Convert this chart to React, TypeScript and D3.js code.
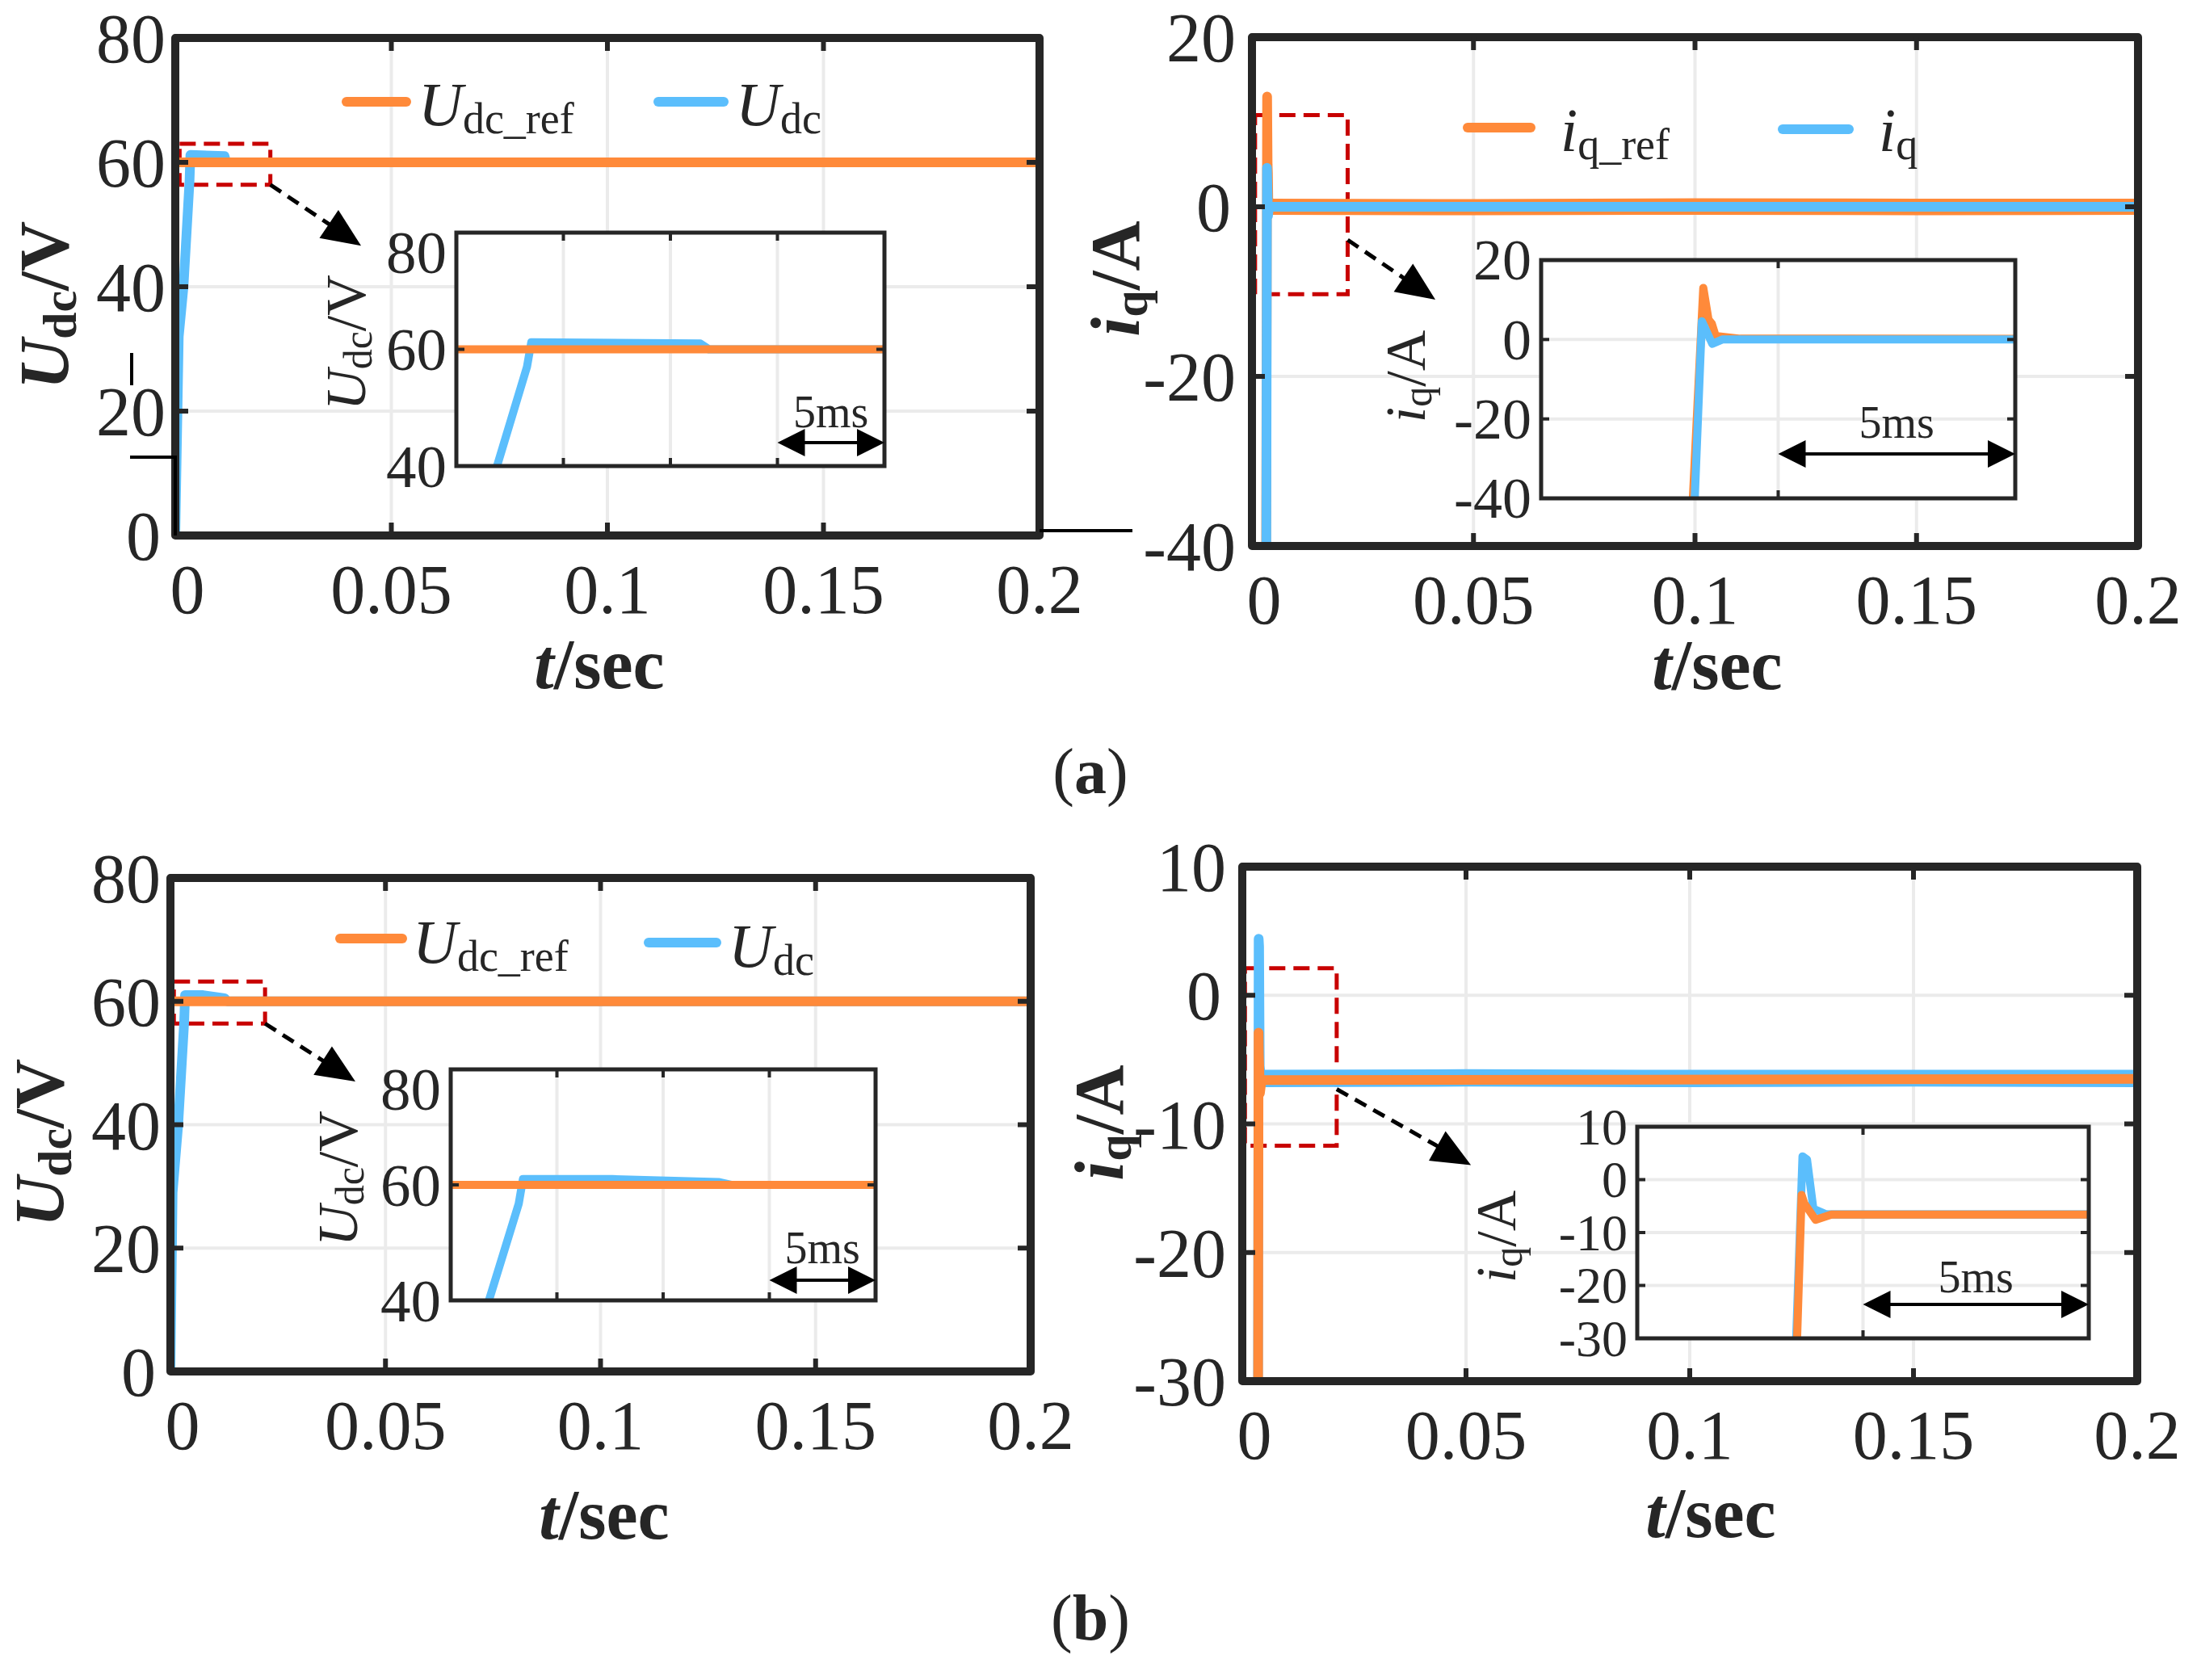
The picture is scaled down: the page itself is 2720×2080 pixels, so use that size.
import React from 'react';
import * as d3 from 'd3';

type Pt = [number, number];
type Band = [number, number, number];

// ---------------- tick values / labels ----------------
const timeTicks = [0, 0.05, 0.1, 0.15, 0.2];
const timeTickLabels = ['0', '0.05', '0.1', '0.15', '0.2'];
const udcTicks = [0, 20, 40, 60, 80];
const udcTickLabels = ['0', '20', '40', '60', '80'];
const udcInsetTicks = [40, 60, 80];
const udcInsetTickLabels = ['40', '60', '80'];
const iqTicksA = [-40, -20, 0, 20];
const iqTickLabelsA = ['-40', '-20', '0', '20'];
const iqTicksB = [-30, -20, -10, 0, 10];
const iqTickLabelsB = ['-30', '-20', '-10', '0', '10'];

const udcInsetWindow: [number, number] = [0, 0.02];
const iqInsetWindow: [number, number] = [0, 0.01];
const udcInsetGrid = [0.005, 0.01, 0.015];
const iqInsetGrid = [0.005];

// ---------------- series (a) ----------------
const udcRefA: Pt[] = [[0, 60], [0.2, 60]];
const udcA: Pt[] = [[0, 0], [0.0008, 32], [0.0019, 40], [0.0033, 57], [0.0035, 61.2], [0.0114, 61.0], [0.0118, 60], [0.2, 60]];
const iqRefA: Pt[] = [[0.0032, -40], [0.00342, 13], [0.00353, 5], [0.0036, 4], [0.00368, 0.9], [0.0042, 0.2], [0.2, 0]];
const iqRefNoiseA: Band[] = [[0.0042, -0.95, 0.95], [0.05, -1.0, 0.9], [0.1, -0.95, 1.0], [0.15, -1.0, 0.95], [0.2, -0.95, 0.95]];
const iqA: Pt[] = [[0.00324, -40], [0.00339, 4.6], [0.00361, -1.1], [0.00382, 0], [0.2, 0]];

// ---------------- series (b) ----------------
const udcRefB: Pt[] = [[0, 60], [0.2, 60]];
const udcB: Pt[] = [[0, 0], [0.0005, 29], [0.0018, 40], [0.0032, 56.7], [0.0034, 61], [0.0076, 61], [0.0126, 60.5], [0.0132, 60], [0.2, 60]];
const iqRefB: Pt[] = [[0.00354, -30], [0.00364, -2.9], [0.0037, -4.5], [0.00395, -7.6], [0.0043, -6.6], [0.2, -6.5]];
const iqB: Pt[] = [[0.00352, -30], [0.00366, 4.4], [0.00376, 3.8], [0.0039, -5.5], [0.0042, -6.6], [0.2, -6.4]];
const iqNoiseB: Band[] = [[0.0042, -7.15, -5.8], [0.05, -7.1, -5.75], [0.1, -7.15, -5.8], [0.15, -7.1, -5.8], [0.2, -7.15, -5.8]];

// ---------------- styles ----------------
const FONT = "'Liberation Serif', 'Times New Roman', Times, serif";
const ORANGE = '#FF8A3A';
const BLUE = '#5BBEFC';
const FRAME = '#262626';
const GRID = '#ebebeb';
const RED = '#C80000';

interface SeriesCfg { data: Pt[]; color: string; }
interface BandCfg { data: Band[]; color: string; }
interface LegendItem { color: string; x0: number; x1: number; y: number; tx: number; ty: number; main: string; sub: string; }
interface InsetCfg {
  box: [number, number, number, number];
  xDomain: [number, number];
  yDomain: [number, number];
  yTicks: number[];
  yTickLabels: string[];
  tickFs: number;
  topShift: number;
  xGrid: number[];
  yGrid: number[];
  label: 'udc' | 'iq';
  labelPos: [number, number];
  span: [number, number];
  spanV: number;
  spanTextV: number;
}
interface PanelCfg {
  id: string;
  frame: [number, number, number, number];
  yDomain: [number, number];
  yTicks: number[];
  yTickLabels: string[];
  yGrid: number[];
  gap: number;
  bands: BandCfg[];
  series: SeriesCfg[];
  zoomBox: [number, number, number, number];
  pointer: [Pt, Pt];
  yLabel: 'udc' | 'iq';
  yLabelPos: [number, number];
  xLabelPos: [number, number];
  legend: LegendItem[];
  inset: InsetCfg;
}

const panels: PanelCfg[] = [
  {
    id: 'aL', frame: [217, 47, 1287, 663], yDomain: [0, 80], yTicks: udcTicks, yTickLabels: udcTickLabels, yGrid: [20, 40, 60], gap: 12,
    bands: [], series: [{ data: udcA, color: BLUE }, { data: udcRefA, color: ORANGE }],
    zoomBox: [0.001, 0.022, 56.4, 63], pointer: [[0.022, 56.4], [0.043, 46.6]],
    yLabel: 'udc', yLabelPos: [84, 378], xLabelPos: [742, 852],
    legend: [
      { color: ORANGE, x0: 423, x1: 509, y: 126, tx: 518, ty: 155, main: 'U', sub: 'dc_ref' },
      { color: BLUE, x0: 809, x1: 902, y: 126, tx: 911, ty: 155, main: 'U', sub: 'dc' },
    ],
    inset: {
      box: [565, 288, 1095, 577], xDomain: udcInsetWindow, yDomain: [40, 80], yTicks: udcInsetTicks, yTickLabels: udcInsetTickLabels, tickFs: 75, topShift: 24,
      xGrid: udcInsetGrid, yGrid: [60], label: 'udc', labelPos: [452, 424], span: [0.015, 0.02], spanV: 44, spanTextV: 46.7,
    },
  },
  {
    id: 'aR', frame: [1550, 46, 2647, 676], yDomain: [-40, 20], yTicks: iqTicksA, yTickLabels: iqTickLabelsA, yGrid: [-20, 0], gap: 20,
    bands: [{ data: iqRefNoiseA, color: ORANGE }], series: [{ data: iqRefA, color: ORANGE }, { data: iqA, color: BLUE }],
    zoomBox: [0.0007, 0.0216, -10.3, 10.8], pointer: [[0.0216, -3.9], [0.0414, -10.95]],
    yLabel: 'iq', yLabelPos: [1410, 345], xLabelPos: [2126, 853],
    legend: [
      { color: ORANGE, x0: 1811, x1: 1901, y: 158, tx: 1932, ty: 187, main: 'i', sub: 'q_ref' },
      { color: BLUE, x0: 2201, x1: 2295, y: 160, tx: 2326, ty: 187, main: 'i', sub: 'q' },
    ],
    inset: {
      box: [1908, 322, 2495, 617], xDomain: iqInsetWindow, yDomain: [-40, 20], yTicks: iqTicksA, yTickLabels: iqTickLabelsA, tickFs: 72, topShift: 0,
      xGrid: iqInsetGrid, yGrid: [0, -20], label: 'iq', labelPos: [1764, 466], span: [0.005, 0.01], spanV: -28.8, spanTextV: -24.7,
    },
  },
  {
    id: 'bL', frame: [211, 1087, 1276, 1698], yDomain: [0, 80], yTicks: udcTicks, yTickLabels: udcTickLabels, yGrid: [20, 40, 60], gap: 12,
    bands: [], series: [{ data: udcB, color: BLUE }, { data: udcRefB, color: ORANGE }],
    zoomBox: [0.0008, 0.022, 56.4, 63.2], pointer: [[0.022, 56.4], [0.043, 47.0]],
    yLabel: 'udc', yLabelPos: [78, 1415], xLabelPos: [748, 1905],
    legend: [
      { color: ORANGE, x0: 415, x1: 504, y: 1162, tx: 511, ty: 1192, main: 'U', sub: 'dc_ref' },
      { color: BLUE, x0: 797, x1: 893, y: 1167, tx: 902, ty: 1197, main: 'U', sub: 'dc' },
    ],
    inset: {
      box: [558, 1324, 1084, 1610], xDomain: udcInsetWindow, yDomain: [40, 80], yTicks: udcInsetTicks, yTickLabels: udcInsetTickLabels, tickFs: 75, topShift: 24,
      xGrid: udcInsetGrid, yGrid: [60], label: 'udc', labelPos: [442, 1459], span: [0.015, 0.02], spanV: 43.5, spanTextV: 46.4,
    },
  },
  {
    id: 'bR', frame: [1538, 1073, 2646, 1710], yDomain: [-30, 10], yTicks: iqTicksB, yTickLabels: iqTickLabelsB, yGrid: [-20, -10, 0], gap: 20,
    bands: [{ data: iqNoiseB, color: BLUE }], series: [{ data: iqB, color: BLUE }, { data: iqRefB, color: ORANGE }],
    zoomBox: [0.0006, 0.0211, -11.7, 2.1], pointer: [[0.0211, -7.3], [0.0511, -13.2]],
    yLabel: 'iq', yLabelPos: [1390, 1390], xLabelPos: [2118, 1903],
    legend: [],
    inset: {
      box: [2027, 1395, 2586, 1657], xDomain: iqInsetWindow, yDomain: [-30, 10], yTicks: iqTicksB, yTickLabels: iqTickLabelsB, tickFs: 64, topShift: 0,
      xGrid: iqInsetGrid, yGrid: [0, -10, -20], label: 'iq', labelPos: [1876, 1531], span: [0.005, 0.01], spanV: -23.6, spanTextV: -21.3,
    },
  },
];

function headPoints(tip: [number, number], from: [number, number], len: number, half: number): string {
  const dx = tip[0] - from[0];
  const dy = tip[1] - from[1];
  const d = Math.hypot(dx, dy) || 1;
  const ux = dx / d, uy = dy / d;
  const bx = tip[0] - ux * len, by = tip[1] - uy * len;
  const px = -uy, py = ux;
  return `${tip[0]},${tip[1]} ${bx + px * half},${by + py * half} ${bx - px * half},${by - py * half}`;
}

function AxisLabel({ kind, fs, sub }: { kind: 'udc' | 'iq'; fs: number; sub: number }) {
  const d = Math.round(fs * 0.12);
  return (
    <>
      <tspan fontStyle="italic">{kind === 'udc' ? 'U' : 'i'}</tspan>
      <tspan fontSize={sub} dy={d}>{kind === 'udc' ? 'dc' : 'q'}</tspan>
      <tspan dy={-d}>{kind === 'udc' ? '/V' : '/A'}</tspan>
    </>
  );
}

function Inset({ cfg, id, series, bands }: { cfg: InsetCfg; id: string; series: SeriesCfg[]; bands: BandCfg[] }) {
  const [bx0, by0, bx1, by1] = cfg.box;
  const x = d3.scaleLinear().domain(cfg.xDomain).range([bx0, bx1]);
  const y = d3.scaleLinear().domain(cfg.yDomain).range([by1, by0]);
  const line = d3.line<Pt>().x(d => x(d[0])).y(d => y(d[1]));
  const area = d3.area<Band>().x(d => x(d[0])).y0(d => y(d[1])).y1(d => y(d[2]));
  const clip = `clip-inset-${id}`;
  const ax0 = x(cfg.span[0]), ax1 = x(cfg.span[1]), ay = y(cfg.spanV);
  return (
    <g>
      <defs>
        <clipPath id={clip}><rect x={bx0} y={by0} width={bx1 - bx0} height={by1 - by0} /></clipPath>
      </defs>
      <rect x={bx0} y={by0} width={bx1 - bx0} height={by1 - by0} fill="#fff" />
      {cfg.xGrid.map(t => <line key={'gx' + t} x1={x(t)} x2={x(t)} y1={by0} y2={by1} stroke={GRID} strokeWidth={4} />)}
      {cfg.yGrid.map(v => <line key={'gy' + v} x1={bx0} x2={bx1} y1={y(v)} y2={y(v)} stroke={GRID} strokeWidth={4} />)}
      <g clipPath={`url(#${clip})`}>
        {bands.map((b, i) => <path key={'b' + i} d={area(b.data) || ''} fill={b.color} />)}
        {series.map((s, i) => (
          <path key={'s' + i} d={line(s.data) || ''} fill="none" stroke={s.color} strokeWidth={10} strokeLinecap="round" strokeLinejoin="round" />
        ))}
      </g>
      <rect x={bx0} y={by0} width={bx1 - bx0} height={by1 - by0} fill="none" stroke={FRAME} strokeWidth={5} />
      {cfg.xGrid.map(t => (
        <g key={'tx' + t}>
          <line x1={x(t)} x2={x(t)} y1={by0} y2={by0 + 10} stroke={FRAME} strokeWidth={4} />
          <line x1={x(t)} x2={x(t)} y1={by1} y2={by1 - 10} stroke={FRAME} strokeWidth={4} />
        </g>
      ))}
      {cfg.yGrid.map(v => (
        <g key={'ty' + v}>
          <line x1={bx0} x2={bx0 + 10} y1={y(v)} y2={y(v)} stroke={FRAME} strokeWidth={4} />
          <line x1={bx1} x2={bx1 - 10} y1={y(v)} y2={y(v)} stroke={FRAME} strokeWidth={4} />
        </g>
      ))}
      {cfg.yTicks.map((v, i) => (
        <text key={'yl' + v} x={bx0 - 12} y={y(v) + cfg.tickFs * 0.34 + (v === cfg.yDomain[1] ? cfg.topShift : 0)} textAnchor="end"
          fontFamily={FONT} fontSize={cfg.tickFs} fill={FRAME}>{cfg.yTickLabels[i]}</text>
      ))}
      <text transform={`translate(${cfg.labelPos[0]},${cfg.labelPos[1]}) rotate(-90)`} textAnchor="middle" fontFamily={FONT} fontSize={70} fill={FRAME}>
        <AxisLabel kind={cfg.label} fs={70} sub={50} />
      </text>
      {/* 5 ms span */}
      <line x1={ax0 + 30} x2={ax1 - 30} y1={ay} y2={ay} stroke="#000" strokeWidth={4} />
      <polygon points={headPoints([ax0, ay], [ax1, ay], 34, 17)} fill="#000" />
      <polygon points={headPoints([ax1, ay], [ax0, ay], 34, 17)} fill="#000" />
      <text x={x((cfg.span[0] + cfg.span[1]) / 2)} y={y(cfg.spanTextV)} textAnchor="middle" fontFamily={FONT} fontSize={56} fill={FRAME}>5ms</text>
    </g>
  );
}

function Panel({ cfg }: { cfg: PanelCfg }) {
  const [fx0, fy0, fx1, fy1] = cfg.frame;
  const x = d3.scaleLinear().domain([timeTicks[0], timeTicks[timeTicks.length - 1]]).range([fx0, fx1]);
  const y = d3.scaleLinear().domain(cfg.yDomain).range([fy1, fy0]);
  const line = d3.line<Pt>().x(d => x(d[0])).y(d => y(d[1]));
  const area = d3.area<Band>().x(d => x(d[0])).y0(d => y(d[1])).y1(d => y(d[2]));
  const clip = `clip-main-${cfg.id}`;
  const innerT = timeTicks.slice(1, -1);
  const [zt0, zt1, zv0, zv1] = cfg.zoomBox;
  const pStart: [number, number] = [x(cfg.pointer[0][0]), y(cfg.pointer[0][1])];
  const pTip: [number, number] = [x(cfg.pointer[1][0]), y(cfg.pointer[1][1])];
  const dxp = pTip[0] - pStart[0], dyp = pTip[1] - pStart[1];
  const dl = Math.hypot(dxp, dyp);
  const pEnd: [number, number] = [pTip[0] - dxp / dl * 44, pTip[1] - dyp / dl * 44];
  return (
    <g>
      <defs>
        <clipPath id={clip}><rect x={fx0} y={fy0} width={fx1 - fx0} height={fy1 - fy0} /></clipPath>
      </defs>
      {innerT.map(t => <line key={'gx' + t} x1={x(t)} x2={x(t)} y1={fy0} y2={fy1} stroke={GRID} strokeWidth={4} />)}
      {cfg.yGrid.map(v => <line key={'gy' + v} x1={fx0} x2={fx1} y1={y(v)} y2={y(v)} stroke={GRID} strokeWidth={4} />)}
      <rect x={x(zt0)} y={y(zv1)} width={x(zt1) - x(zt0)} height={y(zv0) - y(zv1)} fill="none" stroke={RED} strokeWidth={5} strokeDasharray="20 10" />
      <g clipPath={`url(#${clip})`}>
        {cfg.bands.map((b, i) => <path key={'b' + i} d={area(b.data) || ''} fill={b.color} />)}
        {cfg.series.map((s, i) => (
          <path key={'s' + i} d={line(s.data) || ''} fill="none" stroke={s.color} strokeWidth={12} strokeLinecap="round" strokeLinejoin="round" />
        ))}
      </g>
      <rect x={fx0} y={fy0} width={fx1 - fx0} height={fy1 - fy0} fill="none" stroke={FRAME} strokeWidth={10} strokeLinejoin="round" />
      {innerT.map(t => (
        <g key={'tx' + t}>
          <line x1={x(t)} x2={x(t)} y1={fy0} y2={fy0 + 16} stroke={FRAME} strokeWidth={6} />
          <line x1={x(t)} x2={x(t)} y1={fy1} y2={fy1 - 16} stroke={FRAME} strokeWidth={6} />
        </g>
      ))}
      {cfg.yGrid.map(v => (
        <g key={'ty' + v}>
          <line x1={fx0} x2={fx0 + 16} y1={y(v)} y2={y(v)} stroke={FRAME} strokeWidth={6} />
          <line x1={fx1} x2={fx1 - 16} y1={y(v)} y2={y(v)} stroke={FRAME} strokeWidth={6} />
        </g>
      ))}
      {timeTicks.map((t, i) => (
        <text key={'xl' + t} x={x(t) + (timeTickLabels[i] === '0' ? 15 : 0)} y={fy1 + 96} textAnchor="middle"
          fontFamily={FONT} fontSize={86} fill={FRAME}>{timeTickLabels[i]}</text>
      ))}
      {cfg.yTicks.map((v, i) => (
        <text key={'yl' + v} x={fx0 - cfg.gap - (cfg.yTickLabels[i] === '0' ? 6 : 0)} y={y(v) + 30} textAnchor="end"
          fontFamily={FONT} fontSize={86} fill={FRAME}>{cfg.yTickLabels[i]}</text>
      ))}
      <text transform={`translate(${cfg.yLabelPos[0]},${cfg.yLabelPos[1]}) rotate(-90)`} textAnchor="middle" fontFamily={FONT}
        fontWeight="bold" fontSize={86} fill={FRAME}>
        <AxisLabel kind={cfg.yLabel} fs={86} sub={60} />
      </text>
      <text x={cfg.xLabelPos[0]} y={cfg.xLabelPos[1]} textAnchor="middle" fontFamily={FONT} fontWeight="bold" fontSize={88} fill={FRAME}>
        <tspan fontStyle="italic">t</tspan>/sec
      </text>
      {cfg.legend.map((it, i) => (
        <g key={'lg' + i}>
          <line x1={it.x0 + 6} x2={it.x1 - 6} y1={it.y} y2={it.y} stroke={it.color} strokeWidth={12} strokeLinecap="round" />
          <text x={it.tx} y={it.ty} fontFamily={FONT} fontSize={76} fill={FRAME}>
            <tspan fontStyle="italic">{it.main}</tspan>
            <tspan fontSize={54} dy={10}>{it.sub}</tspan>
          </text>
        </g>
      ))}
      <Inset cfg={cfg.inset} id={cfg.id} series={cfg.series} bands={cfg.bands} />
      <line x1={pStart[0]} y1={pStart[1]} x2={pEnd[0]} y2={pEnd[1]} stroke="#000" strokeWidth={5} strokeDasharray="16 10" />
      <polygon points={headPoints(pTip, pStart, 48, 21)} fill="#000" />
    </g>
  );
}

export default function App() {
  return (
    <svg width={2720} height={2080} viewBox="0 0 2720 2080" style={{ position: 'absolute', left: 0, top: 0, background: '#fff' }}>
      <rect x={0} y={0} width={2720} height={2080} fill="#fff" />
      {panels.map(p => <Panel key={p.id} cfg={p} />)}
      {/* stray strokes present in the original figure */}
      <line x1={163} x2={163} y1={437} y2={477} stroke="#000" strokeWidth={4} />
      <polyline points="161,566 217,566 217,663" fill="none" stroke="#000" strokeWidth={4} />
      <line x1={1287} x2={1402} y1={657} y2={657} stroke="#000" strokeWidth={4} />
      <text x={1350} y={982} textAnchor="middle" fontFamily={FONT} fontSize={80} fill={FRAME}>(<tspan fontWeight="bold">a</tspan>)</text>
      <text x={1350} y={2030} textAnchor="middle" fontFamily={FONT} fontSize={80} fill={FRAME}>(<tspan fontWeight="bold">b</tspan>)</text>
    </svg>
  );
}
